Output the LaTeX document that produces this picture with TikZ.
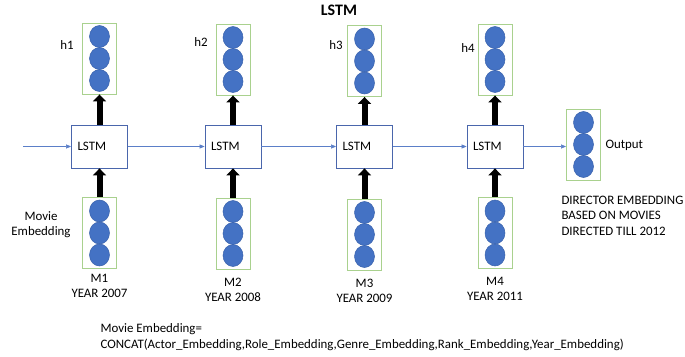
\documentclass[tikz,border=0pt]{standalone}
\usepackage{fontspec}
\setmainfont{Carlito}
\usetikzlibrary{arrows.meta,shapes.geometric}

\definecolor{unitblue}{HTML}{4472C4}
\definecolor{unitedge}{HTML}{3A62AC}
\definecolor{cellblue}{HTML}{4A66AC}
\definecolor{layergreen}{HTML}{A9D18E}
\definecolor{flowblue}{HTML}{5B7FC8}

\tikzset{
  cell/.style={draw=cellblue, line width=0.8pt, fill=white, minimum width=56pt, minimum height=43pt, inner xsep=6pt, text width=44pt, align=left},
  layer/.style={draw=layergreen, line width=0.9pt, minimum width=34pt, minimum height=71pt},
  unit/.style={ellipse, draw=unitedge, fill=unitblue, line width=0.5pt, minimum width=20pt, minimum height=22pt, inner sep=0pt},
  flow/.style={draw=flowblue, line width=0.6pt, -{Triangle[width=4pt,length=5pt]}},
  feed/.style={line width=6pt, -{Triangle[width=13pt,length=7pt]}}
}

\begin{document}
\begin{tikzpicture}[x=1pt,y=-1pt,font=\fontsize{12.9}{15}\selectfont]
        \useasboundingbox (0,0) rectangle (685,356);

        % title
        \node at (339,10) (title) {\fontsize{16}{18}\selectfont\bfseries LSTM};

        % cells
        \node[cell] at (99.5,146.5) (lstm1) {LSTM};
        \node[cell] at (233,146.5) (lstm2) {LSTM};
        \node[cell] at (364.5,146.5) (lstm3) {LSTM};
        \node[cell] at (495,146.5) (lstm4) {LSTM};

        % hidden states
        \node[layer] at (99.5,58.5) (h1) {};
        \node[layer] at (233,59.5) (h2) {};
        \node[layer] at (364.5,61) (h3) {};
        \node[layer] at (495,59.5) (h4) {};

        % movie embeddings
        \node[layer] at (99.5,233) (m1) {};
        \node[layer] at (233,233.5) (m2) {};
        \node[layer] at (364.5,234.5) (m3) {};
        \node[layer] at (495,233) (m4) {};

        % output
        \node[layer] at (583.5,144.5) (out) {};

        % units
        \foreach \b in {h1,h2,h3,h4,m1,m2,m3,m4,out}
          \foreach \i/\d in {1/22,2/0,3/-22}
            \node[unit,yshift=\d pt] at (\b) (\b u\i) {};

        % labels
        \node at (67,45) (lh1) {h1};
        \node at (201,42) (lh2) {h2};
        \node at (336,45) (lh3) {h3};
        \node at (468,48) (lh4) {h4};
        \node[align=center] at (99.5,285.5) (lm1) {M1\\YEAR 2007};
        \node[align=center] at (233,289.5) (lm2) {M2\\YEAR 2008};
        \node[align=center] at (364.5,291) (lm3) {M3\\YEAR 2009};
        \node[align=center] at (495,289) (lm4) {M4\\YEAR 2011};
        \node[align=center] at (41,225) (lmovie) {Movie\\Embedding};
        \node at (602,145) (lout) [right] {Output};
        \node[align=left,font=\fontsize{12.9}{15.5}\selectfont] at (558,215.5) (ldirector) [right] {DIRECTOR EMBEDDING\\BASED ON MOVIES\\DIRECTED TILL 2012};
        \node[align=left,font=\fontsize{12.9}{16}\selectfont] at (97,337) (formula) [right] {Movie Embedding=\\CONCAT(Actor\_Embedding,Role\_Embedding,Genre\_Embedding,Rank\_Embedding,Year\_Embedding)};

        % links
        \coordinate (in) at (23,146.5);
        \draw[flow] (in) -- (lstm1.west);
        \draw[flow] (lstm1) -- (lstm2);
        \draw[flow] (lstm2) -- (lstm3);
        \draw[flow] (lstm3) -- (lstm4);
        \draw[flow] (lstm4.east) -- (lstm4.east-|out.west);

        \draw[feed] (lstm1) -- (h1);
        \draw[feed] (lstm2) -- (h2);
        \draw[feed] (lstm3) -- (h3);
        \draw[feed] (lstm4) -- (h4);
        \draw[feed] (m1) -- (lstm1);
        \draw[feed] (m2) -- (lstm2);
        \draw[feed] (m3) -- (lstm3);
        \draw[feed] (m4) -- (lstm4);
    \end{tikzpicture}
\end{document}
